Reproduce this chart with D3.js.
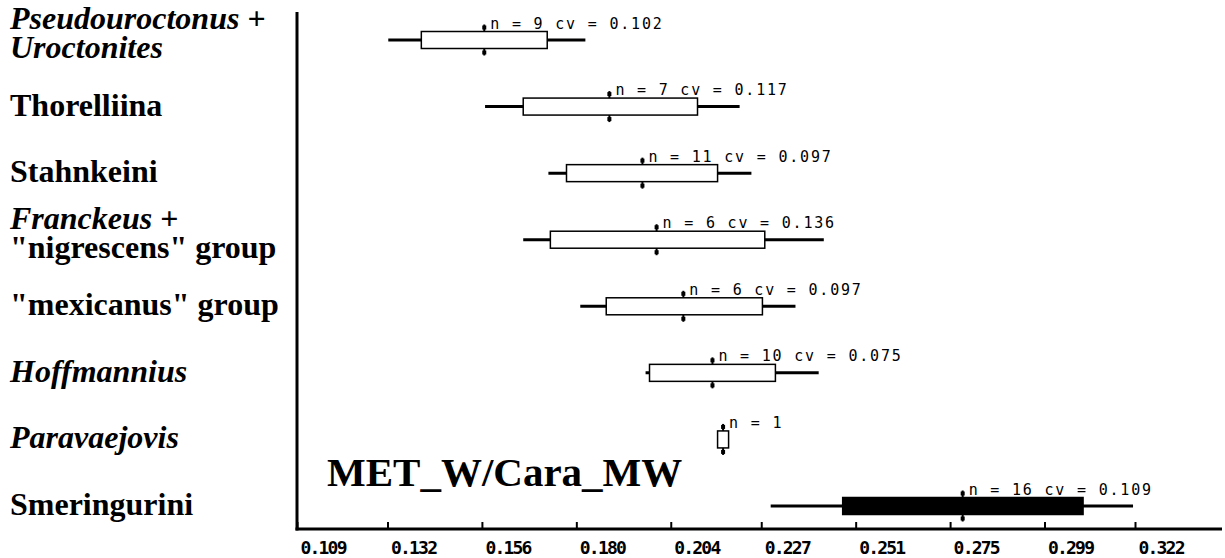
<!DOCTYPE html>
<html>
<head>
<meta charset="utf-8">
<script src="https://cdn.jsdelivr.net/npm/d3@7"></script>
<style>
  body { margin: 0; background: #fff; }
  svg { display: block; }
</style>
</head>
<body>
<svg id="chart" width="1225" height="558"></svg>
<script>
// Groups, top to bottom
const categories = [
  "Pseudouroctonus + Uroctonites",
  "Thorelliina",
  "Stahnkeini",
  "Franckeus + \"nigrescens\" group",
  "\"mexicanus\" group",
  "Hoffmannius",
  "Paravaejovis",
  "Smeringurini"
];

// Label lines per group: [text, italic]
const labelLines = [
  [[["Pseudouroctonus", true], [" +", false]], [["Uroctonites", true]]],
  [[["Thorelliina", false]]],
  [[["Stahnkeini", false]]],
  [[["Franckeus", true], [" +", false]], [["\"nigrescens\" group", false]]],
  [[["\"mexicanus\" group", false]]],
  [[["Hoffmannius", true]]],
  [[["Paravaejovis", true]]],
  [[["Smeringurini", false]]]
];

// MET_W/Cara_MW summaries
const whiskerLow  = [0.1322, 0.1568, 0.1729, 0.1665, 0.1810, 0.1976, null,   0.2294];
const quartile1   = [0.1406, 0.1665, 0.1775, 0.1734, 0.1876, 0.1986, 0.2159, 0.2477];
const medians     = [0.1566, 0.1884, 0.1968, 0.2004, 0.2072, 0.2146, 0.2173, 0.2782];
const quartile3   = [0.1726, 0.2108, 0.2159, 0.2279, 0.2273, 0.2306, 0.2187, 0.3088];
const whiskerHigh = [0.1823, 0.2215, 0.2245, 0.2429, 0.2357, 0.2416, null,   0.3215];
const sampleSize  = [9, 7, 11, 6, 6, 10, 1, 16];
const coefVar     = [0.102, 0.117, 0.097, 0.136, 0.097, 0.075, null, 0.109];
const filledBox   = [false, false, false, false, false, false, false, true];

const tickLabels = ["0.109", "0.132", "0.156", "0.180", "0.204", "0.227", "0.251", "0.275", "0.299", "0.322"];
const chartTitle = "MET_W/Cara_MW";

const rows = categories.map((c, i) => ({
  name: c, lines: labelLines[i],
  lo: whiskerLow[i], q1: quartile1[i], med: medians[i], q3: quartile3[i], hi: whiskerHigh[i],
  n: sampleSize[i], cv: coefVar[i], filled: filledBox[i]
}));

const svg = d3.select("#chart");
const axisX0 = 297, axisY = 529;

const x = d3.scaleLinear().domain([0.109, 0.322]).range([axisX0, 1135]);
const y = d3.scalePoint().domain(categories).range([40, 506]);

// axis lines
svg.append("line").attr("x1", axisX0).attr("x2", axisX0).attr("y1", 12).attr("y2", axisY + 1.5)
  .attr("stroke", "#000").attr("stroke-width", 3);
svg.append("line").attr("x1", axisX0 - 1.5).attr("x2", 1222).attr("y1", axisY).attr("y2", axisY)
  .attr("stroke", "#000").attr("stroke-width", 3);

// bottom axis ticks and labels
const axis = d3.axisBottom(x)
  .tickValues(tickLabels.map(Number))
  .tickFormat((d, i) => tickLabels[i])
  .tickSizeInner(-6)
  .tickSizeOuter(0)
  .tickPadding(13);
const gAxis = svg.append("g").attr("transform", `translate(0,${axisY - 1})`).call(axis);
gAxis.select(".domain").remove();
gAxis.selectAll(".tick line").attr("stroke", "#000").attr("stroke-width", 2);
gAxis.selectAll(".tick text")
  .attr("text-anchor", "start")
  .attr("dx", 3)
  .attr("fill", "#000")
  .style("font-family", "'DejaVu Sans Mono', monospace")
  .style("font-weight", "bold")
  .style("font-size", "18px")
  .style("letter-spacing", "-1.8px");

// group labels (two-line labels are one text element with stacked tspans)
const labels = svg.append("g")
  .style("font-family", "'Liberation Serif', 'Times New Roman', serif")
  .style("font-weight", "bold")
  .style("font-size", "32px")
  .attr("fill", "#000");
rows.forEach(r => {
  const yc = y(r.name);
  const t = labels.append("text").attr("x", 10).attr("y", r.lines.length === 2 ? yc - 11 : yc + 9);
  r.lines.forEach((segs, li) => {
    segs.forEach(([s, it], si) => {
      const sp = t.append("tspan").text(s).style("font-style", it ? "italic" : "normal");
      if (li > 0 && si === 0) sp.attr("x", 10).attr("dy", 29);
    });
  });
});

// title inside the plot
svg.append("text").attr("x", 327).attr("y", 486)
  .style("font-family", "'Liberation Serif', 'Times New Roman', serif")
  .style("font-weight", "bold").style("font-size", "41px")
  .attr("fill", "#000").text(chartTitle);

// box plots
const boxH = 17;
const g = svg.append("g");
rows.forEach(r => {
  const yc = y(r.name);
  const top = yc - boxH / 2, bottom = yc + boxH / 2;
  if (r.lo != null) {
    g.append("line").attr("x1", x(r.lo)).attr("x2", x(r.hi)).attr("y1", yc).attr("y2", yc)
      .attr("stroke", "#000").attr("stroke-width", 3);
  }
  g.append("rect")
    .attr("x", x(r.q1)).attr("y", top)
    .attr("width", x(r.q3) - x(r.q1)).attr("height", boxH)
    .attr("fill", r.filled ? "#000" : "#fff")
    .attr("stroke", "#000").attr("stroke-width", 1.5);
  // median: short stubs above and below the box, with heavier tips
  const mx = x(r.med);
  g.append("line").attr("x1", mx).attr("x2", mx).attr("y1", top - 7).attr("y2", top)
    .attr("stroke", "#000").attr("stroke-width", 2);
  g.append("line").attr("x1", mx).attr("x2", mx).attr("y1", bottom).attr("y2", bottom + 7)
    .attr("stroke", "#000").attr("stroke-width", 2);
  g.append("rect").attr("x", mx - 2).attr("y", top - 6).attr("width", 4).attr("height", 4).attr("fill", "#000");
  g.append("rect").attr("x", mx - 2).attr("y", bottom + 2).attr("width", 4).attr("height", 4).attr("fill", "#000");
  const label = r.cv != null ? `n = ${r.n} cv = ${d3.format(".3f")(r.cv)}` : `n = ${r.n}`;
  g.append("text").attr("x", mx + 6).attr("y", top - 3)
    .style("font-family", "'DejaVu Sans Mono', monospace")
    .style("font-size", "15px")
    .style("letter-spacing", "1.8px")
    .attr("fill", "#000").text(label);
});
</script>
</body>
</html>
